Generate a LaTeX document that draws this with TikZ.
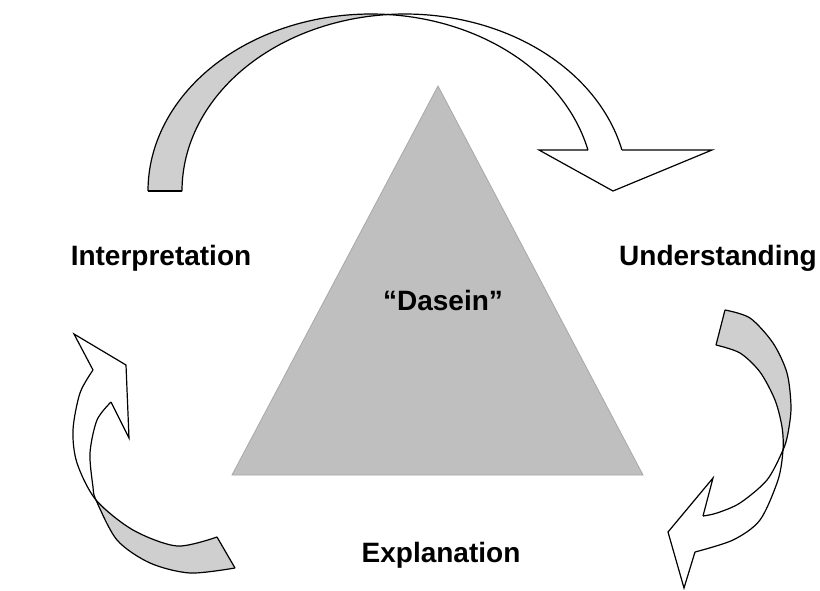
\documentclass[tikz,border=0pt]{standalone}
\usepackage{fontspec}
\setmainfont{Liberation Sans}
\begin{document}
\begin{tikzpicture}[x=1pt,y=-1pt,
  band/.style={fill=bandgray},
  edge/.style={draw=black,line width=1.2pt,line join=miter},
  label/.style={font=\fontsize{28}{34}\selectfont\bfseries,anchor=base,inner sep=0pt}]
\definecolor{bandgray}{HTML}{CFCFCF}
\definecolor{trigray}{HTML}{BFBFBF}
\definecolor{triedge}{HTML}{A8A8A8}
\useasboundingbox (0,0) rectangle (820,590);
\fill[white] (0,0) rectangle (820,590);

% central triangle
\filldraw[fill=trigray,draw=triedge,line width=0.8pt] (438,86) -- (643,475) -- (232,475) -- cycle;
\node[label] (dasein) at (443,310) {“Dasein”};

% labels
\node[label] (interp) at (161,265) {Interpretation};
\node[label] (under) at (718,265) {Understanding};
\node[label] (expl) at (441,562) {Explanation};

% top curved arrow: two offset half ellipses
\begin{scope}
  \clip (0,0) rectangle (388,191);
  \fill[band,even odd rule]
    plot[domain=0:360,samples=180] ({371+223*cos(\x)},{191+177*sin(\x)}) -- cycle
    plot[domain=0:360,samples=180] ({405+223*cos(\x)},{191+177*sin(\x)}) -- cycle;
\end{scope}
\draw[edge] plot[domain=180:346.6,samples=120] ({371+223*cos(\x)},{191+177*sin(\x)});
\draw[edge] plot[domain=180:346.6,samples=120] ({405+223*cos(\x)},{191+177*sin(\x)});
\draw[edge] (148,191) -- (182,191);
\draw[edge] (588,150) -- (539,150) -- (613,191) -- (712,150) -- (622,150);

% right curved arrow
\fill[band] plot[smooth] coordinates {(725,310) (750,318) (773,343) (787,373) (791,407) (788,433) (783,450)}
  -- plot[smooth] coordinates {(783,450) (782,427) (775,400) (760,372) (740,353) (716,345)} -- cycle;
\draw[edge] plot[smooth] coordinates {(725,310) (750,318) (773,343) (787,373) (791,407) (788,433) (783,450) (767,480) (740,503) (717,513) (703,516)};
\draw[edge] plot[smooth] coordinates {(716,345) (740,353) (760,372) (775,400) (782,427) (783,450) (778,480) (760,520) (733,540) (695,552)};
\draw[edge] (725,310) -- (716,345);
\draw[edge] (703,516) -- (713,478) -- (668,532) -- (684,588) -- (695,552);

% left curved arrow
\fill[band] plot[smooth] coordinates {(96,500) (133,530) (177,546) (217,537)}
  -- (235,568) -- plot[smooth] coordinates {(235,568) (190,573) (150,563) (117,540) (96,500)} -- cycle;
\draw[edge] plot[smooth] coordinates {(93,370) (80,393) (73,430) (77,463) (96,500) (133,530) (177,546) (217,537)};
\draw[edge] plot[smooth] coordinates {(111,402) (97,420) (90,453) (93,487) (96,500) (117,540) (150,563) (190,573) (235,568)};
\draw[edge] (217,537) -- (235,568);
\draw[edge] (93,370) -- (74,334) -- (126,365) -- (129,438) -- (111,402);
\end{tikzpicture}
\end{document}
